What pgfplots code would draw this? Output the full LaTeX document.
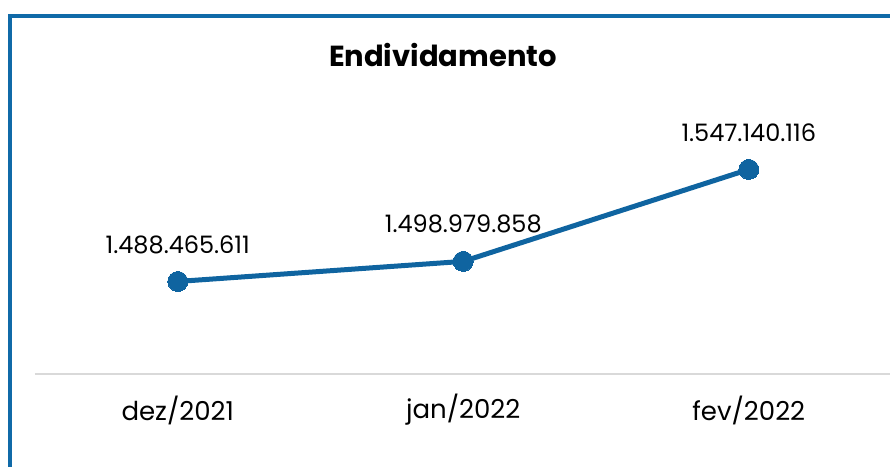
\documentclass[border=0pt]{standalone}
\usepackage{pgfplots}
\usepackage{pgfplotstable}
\pgfplotsset{compat=1.18}
\usepackage{fontspec}
\setmainfont{Poppins}
\definecolor{lineblue}{HTML}{0F64A0}
\definecolor{frameblue}{HTML}{106AA8}
\definecolor{axisgray}{HTML}{D9D9D9}
\pgfplotstableread{
x y label
0 1488465611 1.488.465.611
1 1498979858 1.498.979.858
2 1547140116 1.547.140.116
}\datatable
\begin{document}
\begin{tikzpicture}[x=1pt,y=1pt]
\path[use as bounding box] (0,0) rectangle (890,467);
\fill[frameblue] (8,0) rectangle (12,453);
\fill[frameblue] (8,449) rectangle (890,453);
\node[font=\bfseries\fontsize{29}{34}\selectfont] at (443,412) {Endividamento};
\begin{axis}[
  at={(35pt,93pt)}, anchor=south west,
  width=856.5pt, height=274pt, scale only axis,
  xmin=-0.5, xmax=2.5,
  ymin=1440000000, ymax=1583500000,
  axis y line=none,
  axis x line*=bottom,
  x axis line style={draw=axisgray, line width=1.5pt, -},
  xtick={0,1,2},
  xticklabels={dez/2021,jan/2022,fev/2022},
  major tick length=0pt,
  xticklabel style={font=\fontsize{26}{30}\selectfont, anchor=center, yshift=-36pt},
  clip=false,
  nodes near coords,
  point meta=explicit symbolic,
  every node near coord/.append style={font=\fontsize{24}{28}\selectfont, anchor=center, yshift=37pt, text=black},
]
\addplot[lineblue, line width=5pt, line join=round, mark=*, mark size=10pt,
  mark options={fill=lineblue, draw=lineblue, line width=0pt}]
  table[x=x, y=y, meta=label]{\datatable};
\end{axis}
\end{tikzpicture}
\end{document}
